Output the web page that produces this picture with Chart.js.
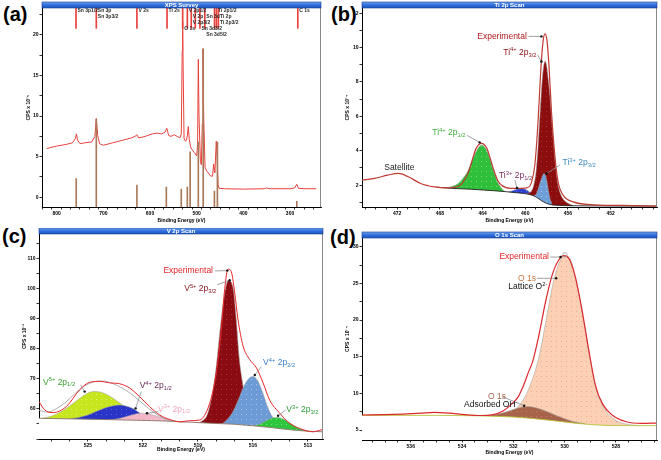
<!DOCTYPE html>
<html>
<head>
<meta charset="utf-8">
<script src="https://cdn.jsdelivr.net/npm/chart.js@4.4.0/dist/chart.umd.min.js"></script>
<style>
  html, body { margin: 0; padding: 0; background: #fff; }
  body { width: 661px; height: 460px; position: relative; overflow: hidden; }
  canvas { position: absolute; }
  .tag { position: absolute; font: bold 20px "Liberation Sans", Arial, sans-serif; line-height: 20px; color: #000; }
</style>
</head>
<body>
<div class="tag" style="left:3px;top:4px">(a)</div>
<div class="tag" style="left:331px;top:4px">(b)</div>
<div class="tag" style="left:2px;top:226px">(c)</div>
<div class="tag" style="left:330px;top:227px">(d)</div>
<canvas id="survey" width="330" height="226" style="left:0;top:0"></canvas>
<canvas id="ti2p" width="331" height="226" style="left:330px;top:0"></canvas>
<canvas id="v2p" width="330" height="227" style="left:0;top:228px"></canvas>
<canvas id="o1s" width="331" height="228" style="left:330px;top:230px"></canvas>
<script>
// ---------- (a) XPS survey, binding energy (eV) vs CPS x 1e-5 ----------
const surveyBE = [821, 800, 780, 766, 760, 757.5, 755, 750, 740, 725, 718, 715, 712, 708, 700, 680, 660, 640, 632, 628,
  624, 610, 595, 585, 575, 568, 564, 560, 555, 548, 542, 536, 533, 531, 530, 529, 527, 524, 522, 520,
  518, 516, 513, 510, 505, 500, 498, 496.5, 495, 492, 490, 488, 486.5, 485, 482, 478, 474, 470, 466, 463.5,
  461, 458, 456, 454, 452, 440, 400, 355, 350, 345, 300, 290, 285.5, 282, 270, 244];
const surveyCPS = [6.0, 6.3, 6.5, 6.7, 7.2, 7.8, 7.0, 6.6, 6.7, 6.8, 7.5, 9.7, 7.6, 6.6, 6.4, 6.7, 7.0, 7.3, 7.5, 7.7,
  7.3, 7.5, 7.8, 7.9, 7.8, 8.0, 8.5, 7.6, 7.5, 7.7, 7.5, 7.3, 7.8, 18.0, 21.6, 16.0, 7.2, 6.9, 7.0, 7.6,
  8.7, 7.2, 6.2, 5.9, 5.5, 5.1, 6.5, 17.0, 10.0, 4.4, 4.0, 9.0, 18.2, 10.0, 3.6, 3.2, 2.9, 2.6, 2.6, 4.1,
  3.0, 6.9, 4.5, 1.5, 1.1, 1.05, 1.0, 1.05, 1.15, 1.05, 1.05, 1.15, 1.6, 1.1, 1.05, 1.05];
const refBE = [758, 715, 628, 565, 533, 520, 514, 496.5, 486, 462, 455.6, 285.5];
const refHeight = [2.3, 9.6, 1.5, 1.25, 1.0, 1.25, 5.6, 6.8, 18.3, 0.75, 6.8, -0.5];
const markerBE = [758.5, 715, 628, 563.5, 530, 520, 511.6, 503, 493, 482.6, 461.8, 457.7, 453.5, 283.4];
const surveyLabels = ['Sn 3p1/2', 'Sn 3p', 'Sn 3p3/2', 'V 2s', 'Ti 2s', 'V 2p1/2', 'V 2p', 'V 2p3/2', 'O 1s',
  'Sn 3d', 'Sn 3d3/2', 'Sn 3d5/2', 'Ti 2p1/2', 'Ti 2p', 'Ti 2p3/2', 'C 1s'];
const surveyLabelBE = [758.5, 715, 715, 628, 563.5, 520, 511.6, 511.6, 530, 482.6, 493, 482.6, 457.7, 453.5, 453.5, 283.4];
const surveyTicksX = [800, 700, 600, 500, 400, 300];
const surveyTicksY = [0, 5, 10, 15, 20];

// ---------- (b) Ti 2p, CPS x 1e-4 ----------
const tiBE = [475.3, 474.1, 472.9, 471.9, 471.0, 469.8, 468.5, 467.3, 466.2, 465.6, 465.2, 464.9, 464.6, 464.1, 463.6,
  463.3, 463.0, 462.7, 462.4, 461.8, 460.8, 459.9, 459.4, 459.1, 458.8, 458.55, 458.33, 458.14, 457.95, 457.76,
  457.54, 457.23, 456.92, 456.45, 455.5, 453.9, 451, 447.65];
const tiCPS = [2.29, 2.39, 2.58, 2.68, 2.5, 2.1, 1.9, 1.84, 1.95, 2.4, 2.97, 3.6, 4.14, 4.43, 4.14,
  3.6, 2.97, 2.45, 2.1, 1.86, 1.81, 1.84, 2.19, 3.17, 5.69, 8.6, 10.36, 10.79, 10.36, 8.8,
  6.27, 3.75, 2.19, 1.42, 1.03, 0.87, 0.82, 0.78];
const tiBgBE = [468.3, 467, 465, 463, 461.8, 460.5, 459.6, 459.0, 458.6, 458.3, 457.7, 457.1, 455, 447.65];
const tiBgCPS = [1.88, 1.82, 1.76, 1.68, 1.62, 1.54, 1.46, 1.32, 1.15, 1.03, 0.88, 0.83, 0.8, 0.78];
const ti4p12BE = [467.6, 467.0, 466.4, 465.9, 465.4, 465.0, 464.6, 464.3, 464.05, 463.8, 463.5, 463.2, 462.9, 462.6, 462.3, 461.9];
const ti4p12CPS = [1.8, 1.9, 2.05, 2.35, 2.8, 3.4, 3.95, 4.25, 4.33, 4.2, 3.85, 3.3, 2.7, 2.2, 1.88, 1.62];
const ti4p32BE = [460.0, 459.5, 459.2, 459.0, 458.8, 458.6, 458.4, 458.25, 458.14, 458.0, 457.85, 457.7, 457.55, 457.35,
  457.15, 456.95, 456.7, 456.4, 456.0, 455.5];
const ti4p32CPS = [1.5, 1.6, 2.0, 2.7, 4.2, 6.3, 8.2, 9.0, 9.2, 8.95, 8.2, 7.3, 6.1, 4.5, 3.1, 2.1, 1.5, 1.15, 0.95, 0.82];
const ti3p32BE = [459.2, 459.0, 458.8, 458.6, 458.4, 458.25, 458.1, 457.95, 457.8, 457.65, 457.5];
const ti3p32CPS = [1.4, 1.45, 1.75, 2.15, 2.5, 2.68, 2.55, 2.15, 1.6, 1.15, 0.9];
const ti3p12BE = [461.6, 461.2, 460.8, 460.4, 460.0, 459.6, 459.3];
const ti3p12CPS = [1.6, 1.68, 1.76, 1.8, 1.76, 1.6, 1.42];
const tiTicksX = [472, 468, 464, 460, 456, 452];
const tiTicksY = [2, 4, 6, 8, 10, 12];

// ---------- (c) V 2p, CPS x 1e-3 ----------
const vBE = [527.67, 527.36, 526.9, 526.18, 525.45, 524.9, 524.36, 523.82, 523.27, 522.73, 522.18, 521.64, 521.09,
  520.54, 520.0, 519.45, 518.91, 518.36, 518.0, 517.72, 517.54, 517.36, 517.18, 517.0, 516.82, 516.54, 516.18,
  515.81, 515.45, 515.09, 514.54, 514.0, 513.45, 512.73, 512.36, 512.18];
const vCPS = [62.5, 59.7, 58.8, 60.8, 66.4, 68.9, 69.2, 68.7, 68.4, 67.0, 64.1, 60.8, 58.0,
  56.5, 55.7, 56.1, 56.3, 61.9, 72.0, 86.6, 100.1, 106.6, 105.7, 99.0, 90.0, 81.0, 76.5,
  73.7, 68.7, 63.0, 58.6, 55.2, 53.5, 52.4, 52.9, 53.2];
const vFitBE = [527.67, 527.2, 526.7, 526.2, 525.7, 525.2, 524.7, 524.2, 523.7, 523.2, 522.7, 522.2, 521.7, 521.2, 520.7, 520.2, 519.7];
const vFitCPS = [59.5, 59.0, 60.2, 62.3, 65.2, 67.6, 69.0, 69.3, 68.6, 67.2, 65.3, 62.8, 60.2, 58.0, 56.6, 55.9, 55.6];
const vBgBE = [527.67, 525, 522, 520, 518.5, 517, 516, 515, 514, 513, 512.18];
const vBgCPS = [56.9, 56.6, 56.2, 55.8, 55.3, 54.9, 54.4, 53.8, 53.1, 52.6, 52.4];
const v5p12BE = [527.5, 527.0, 526.5, 526.0, 525.5, 525.1, 524.7, 524.3, 523.9, 523.5, 523.1, 522.7, 522.3, 521.9, 521.5, 521.0];
const v5p12CPS = [56.9, 57.6, 59.0, 61.0, 63.3, 65.0, 65.8, 65.6, 64.6, 63.0, 61.3, 59.7, 58.3, 57.3, 56.7, 56.2];
const v4p12BE = [526.0, 525.5, 525.0, 524.5, 524.0, 523.6, 523.3, 523.0, 522.6, 522.3, 522.0, 521.6, 521.2, 520.8];
const v4p12CPS = [56.7, 57.2, 58.0, 59.3, 60.5, 61.1, 61.3, 61.1, 60.3, 59.2, 58.0, 57.0, 56.3, 56.0];
const v3p12BE = [523.8, 523.3, 522.9, 522.5, 522.1, 521.7, 521.3, 520.9, 520.5, 520.1];
const v3p12CPS = [56.4, 56.8, 57.5, 58.2, 58.6, 58.4, 57.7, 56.9, 56.2, 55.8];
const v5p32BE = [519.2, 518.8, 518.5, 518.3, 518.1, 517.95, 517.8, 517.65, 517.5, 517.35, 517.2, 517.05, 516.9,
  516.75, 516.6, 516.4, 516.2, 516.0, 515.7, 515.3, 515.0];
const v5p32CPS = [55.2, 55.9, 58.0, 62.5, 69.5, 77, 86, 94, 100, 102.8, 102.4, 99, 89, 77, 70, 63, 59, 57, 55.5, 54.4, 53.8];
const v4p32BE = [517.7, 517.4, 517.1, 516.8, 516.5, 516.25, 516.0, 515.75, 515.5, 515.25, 515.0, 514.7, 514.4, 514.1];
const v4p32CPS = [55.0, 56.5, 59, 63, 67.5, 70, 70.8, 69.5, 66, 61.5, 58.0, 55.5, 54.2, 53.5];
const v3p32BE = [516.0, 515.6, 515.3, 515.0, 514.75, 514.5, 514.2, 513.9, 513.6, 513.3, 513.0];
const v3p32CPS = [54.4, 55.0, 56.0, 56.9, 57.2, 57.0, 56.2, 55.0, 53.9, 53.1, 52.7];
const vTicksX = [525, 522, 519, 516, 513];
const vTicksY = [60, 70, 80, 90, 100, 110];

// ---------- (d) O 1s, CPS x 1e-4 ----------
const oBE = [537.9, 537.0, 536.3, 535.6, 535.1, 534.5, 533.9, 533.3, 532.8, 532.4, 532.05, 531.8, 531.6, 531.4, 531.25,
  531.0, 530.75, 530.5, 530.25, 530.03, 529.83, 529.57, 529.31, 529.05, 528.8, 528.53, 528.15, 527.6, 527.0, 526.4];
const oCPS = [7.05, 7.1, 7.18, 7.3, 7.4, 7.3, 7.1, 6.98, 7.1, 7.6, 8.6, 9.6, 11.1, 13.0, 14.3,
  18.0, 22.4, 26.0, 28.1, 28.8, 28.4, 25.7, 21.1, 15.7, 11.1, 8.6, 7.05, 6.13, 5.91, 5.95];
const oBgBE = [537.9, 535, 533.5, 532.5, 531.5, 530.5, 529.5, 528.5, 527.5, 526.4];
const oBgCPS = [7.0, 7.0, 6.95, 6.85, 6.65, 6.3, 5.9, 5.65, 5.6, 5.6];
const oLatticeBE = [532.6, 532.2, 531.9, 531.6, 531.3, 531.0, 530.75, 530.5, 530.25, 530.0, 529.8, 529.57, 529.31,
  529.05, 528.8, 528.53, 528.15, 527.8, 527.4, 527.0];
const oLatticeCPS = [6.85, 7.3, 7.9, 9.2, 11.5, 15.0, 19.5, 24.2, 27.5, 28.7, 28.4, 25.6, 21.0, 15.6, 11.0, 8.4, 6.7, 6.0, 5.7, 5.6];
const oHydroxBE = [533.2, 532.8, 532.4, 532.0, 531.7, 531.45, 531.2, 530.9, 530.6, 530.3, 530.0, 529.6, 529.2];
const oHydroxCPS = [6.95, 7.05, 7.35, 7.8, 8.1, 8.2, 8.1, 7.8, 7.4, 6.95, 6.55, 6.1, 5.85];
const oTicksX = [536, 534, 532, 530, 528];
const oTicksY = [5, 10, 15, 20, 25, 30];

// ---------- helpers ----------
const FONT = '"Liberation Sans", Arial, sans-serif';
const pts = (xs, ys) => xs.map((x, i) => ({ x, y: ys[i] }));

// flat fill with a sparse stipple, like the fitting software's hatch
const dots = (base, dot) => {
  const c = document.createElement('canvas');
  c.width = 5; c.height = 5;
  const g = c.getContext('2d');
  g.fillStyle = base; g.fillRect(0, 0, 5, 5);
  g.fillStyle = dot; g.fillRect(1, 1, 1, 1);
  return g.createPattern(c, 'repeat');
};

const line = (xs, ys, color, width) => ({
  data: pts(xs, ys), borderColor: color, borderWidth: width, fill: false, pointRadius: 0
});
const area = (xs, ys, fillStyle, edge) => ({
  data: pts(xs, ys), borderColor: edge || 'rgba(160,160,160,0.9)', borderWidth: 0.6,
  backgroundColor: fillStyle, fill: 'start', pointRadius: 0
});
// background line; its white fill hides the component fills below it
const baseline = (xs, ys, color) => ({
  data: pts(xs, ys), borderColor: color, borderWidth: 0.9, backgroundColor: '#fff', fill: 'start', pointRadius: 0
});

const tickList = (min, max, step, major, reverse) => {
  const out = [];
  for (let v = Math.ceil(min / step - 1e-9) * step; v <= max + 1e-9; v += step) out.push(Math.round(v * 1000) / 1000);
  major.forEach((m) => { if (!out.some((v) => Math.abs(v - m) < 1e-6)) out.push(m); });
  out.sort((a, b) => a - b);
  return reverse ? out.reverse() : out;
};

const axis = (dir, o) => ({
  type: 'linear', min: o.min, max: o.max, reverse: dir === 'x',
  border: { display: true, color: '#000', width: 1 },
  grid: { drawOnChartArea: false, drawTicks: true, tickLength: 2.5, color: '#000', lineWidth: 0.8 },
  ticks: {
    autoSkip: false, maxRotation: 0, padding: 1, color: '#000',
    font: { family: FONT, size: 5, weight: 'bold' },
    callback: (v) => (o.major.some((m) => Math.abs(m - v) < 1e-6) ? String(v) : '')
  },
  afterBuildTicks: (s) => { s.ticks = tickList(o.min, o.max, o.minor, o.major, dir === 'x').map((v) => ({ value: v })); },
  afterFit: (s) => { if (dir === 'x') s.height = o.size; else s.width = o.size; },
  title: {
    display: true, text: o.title, color: '#000',
    font: { family: FONT, size: 5, weight: 'bold' },
    padding: dir === 'x' ? { top: 0, bottom: 2 } : { top: 2, bottom: 0 }
  }
});

// text with ^{sup} and _{sub} parts
const richText = (ctx, str, x, y, size, align) => {
  const parts = [];
  const re = /(\^|_)\{([^}]*)\}|([^^_]+)/g;
  let m;
  while ((m = re.exec(str))) {
    if (m[3]) parts.push({ t: m[3], k: 0 });
    else parts.push({ t: m[2], k: m[1] === '^' ? 1 : -1 });
  }
  const fontFor = (k) => (k ? size * 0.68 : size) + 'px ' + FONT;
  let w = 0;
  parts.forEach((p) => { ctx.font = fontFor(p.k); p.w = ctx.measureText(p.t).width; w += p.w; });
  let cx = align === 'right' ? x - w : align === 'center' ? x - w / 2 : x;
  ctx.textAlign = 'left';
  ctx.textBaseline = 'middle';
  parts.forEach((p) => {
    ctx.font = fontFor(p.k);
    const dy = p.k === 1 ? -size * 0.32 : p.k === -1 ? size * 0.3 : 0;
    ctx.fillText(p.t, cx, y + dy);
    cx += p.w;
  });
};

const framePlugin = (title) => ({
  id: 'frame',
  afterDraw(chart) {
    const { ctx, chartArea: a } = chart;
    ctx.save();
    ctx.strokeStyle = '#8a8a8a';
    ctx.lineWidth = 1;
    ctx.beginPath();
    ctx.moveTo(a.right - 0.5, a.top);
    ctx.lineTo(a.right - 0.5, a.bottom);
    ctx.stroke();
    const h = 6;
    const grad = ctx.createLinearGradient(0, a.top - h, 0, a.top);
    grad.addColorStop(0, '#6fa3f0');
    grad.addColorStop(0.5, '#2f6fdc');
    grad.addColorStop(1, '#1d56c0');
    ctx.fillStyle = grad;
    ctx.fillRect(a.left, a.top - h, a.right - a.left, h);
    ctx.strokeStyle = '#1a3f8a';
    ctx.lineWidth = 0.6;
    ctx.strokeRect(a.left, a.top - h, a.right - a.left, h);
    ctx.fillStyle = '#fff';
    ctx.font = 'bold 6px ' + FONT;
    ctx.textAlign = 'center';
    ctx.textBaseline = 'middle';
    ctx.fillText(title, (a.left + a.right) / 2, a.top - h / 2 + 0.3);
    ctx.restore();
  }
});

const notesPlugin = (notes) => ({
  id: 'notes',
  afterDatasetsDraw(chart) {
    const { ctx, scales: { x, y } } = chart;
    const px = (p) => [x.getPixelForValue(p[0]), y.getPixelForValue(p[1])];
    ctx.save();
    notes.forEach((n) => {
      if (n.from) {
        const a = px(n.from), b = px(n.to);
        ctx.strokeStyle = '#8c8c8c';
        ctx.lineWidth = 0.8;
        ctx.beginPath(); ctx.moveTo(a[0], a[1]); ctx.lineTo(b[0], b[1]); ctx.stroke();
        ctx.fillStyle = '#111';
        ctx.beginPath(); ctx.arc(b[0], b[1], 1.2, 0, Math.PI * 2); ctx.fill();
      }
      if (n.ring) {
        const r = px(n.ring);
        ctx.strokeStyle = '#9a9a9a';
        ctx.lineWidth = 0.8;
        ctx.beginPath(); ctx.arc(r[0], r[1], 2.2, 0, Math.PI * 2); ctx.stroke();
      }
      if (n.text) {
        const t = px(n.at);
        ctx.fillStyle = n.color;
        richText(ctx, n.text, t[0], t[1], n.size || 8.5, n.align);
      }
    });
    ctx.restore();
  }
});

const surveyLabelRow = [0, 0, 1, 0, 0, 0, 1, 2, 3, 1, 3, 4, 0, 1, 2, 0];
const surveyTextPlugin = {
  id: 'surveyText',
  afterDatasetsDraw(chart) {
    const { ctx, chartArea, scales: { x } } = chart;
    ctx.save();
    ctx.font = 'bold 5px ' + FONT;
    ctx.fillStyle = '#2a2a2a';
    ctx.textBaseline = 'middle';
    surveyLabels.forEach((t, i) => {
      ctx.fillText(t, x.getPixelForValue(surveyLabelBE[i]) + 1.5, chartArea.top + 3 + surveyLabelRow[i] * 6);
    });
    ctx.restore();
  }
};

const makeChart = (id, cfg) => new Chart(document.getElementById(id), {
  type: 'line',
  data: { datasets: cfg.datasets },
  options: {
    responsive: false, animation: false, events: [], devicePixelRatio: 1,
    layout: { padding: cfg.padding },
    elements: { point: { radius: 0 }, line: { cubicInterpolationMode: 'monotone' } },
    plugins: { legend: { display: false }, tooltip: { enabled: false } },
    scales: { x: axis('x', cfg.x), y: axis('y', cfg.y) }
  },
  plugins: [framePlugin(cfg.title), notesPlugin(cfg.notes || [])].concat(cfg.extra || [])
});

// ---------- (a) ----------
makeChart('survey', {
  title: 'XPS Survey',
  padding: { left: 24, top: 8, right: 9, bottom: 0 },
  x: { min: 244, max: 821, major: surveyTicksX, minor: 20, size: 19, title: 'Binding Energy (eV)' },
  y: { min: -1.2, max: 23.3, major: surveyTicksY, minor: 2.5, size: 18, title: 'CPS x 10\u207B\u2075' },
  datasets: [
    { type: 'bar', data: pts(refBE, refHeight), base: -1.2, backgroundColor: '#a97a5a', barThickness: 1, grouped: false },
    { type: 'bar', data: markerBE.map((x) => ({ x, y: 20.8 })), base: 23.3, backgroundColor: '#e8413c', barThickness: 1, grouped: false },
    Object.assign(line(surveyBE, surveyCPS, '#e8413c', 1), { cubicInterpolationMode: 'default', tension: 0 })
  ],
  extra: [surveyTextPlugin]
});

// ---------- (b) ----------
makeChart('ti2p', {
  title: 'Ti 2p Scan',
  padding: { left: 13, top: 8, right: 4, bottom: 0 },
  x: { min: 447.65, max: 475.3, major: tiTicksX, minor: 1, size: 19, title: 'Binding Energy (eV)' },
  y: { min: 0.73, max: 12.3, major: tiTicksY, minor: 1, size: 19, title: 'CPS x 10\u207B\u2074' },
  datasets: [
    line(tiBE, tiCPS, '#bf3b33', 1.2),
    baseline(tiBgBE, tiBgCPS, '#222'),
    area(ti3p32BE, ti3p32CPS, dots('#6f9fd8', '#a9c6ec')),
    area(ti4p32BE, ti4p32CPS, dots('#8c0d0d', '#a33434')),
    area(ti3p12BE, ti3p12CPS, dots('#2b3fd0', '#5a6adc')),
    area(ti4p12BE, ti4p12CPS, dots('#2fbf3a', '#7ad880'))
  ],
  notes: [
    { text: 'Experimental', color: '#b0181a', at: [459.85, 10.65], align: 'right', from: [459.7, 10.65], to: [458.48, 10.65] },
    { text: 'Ti^{4+} 2p_{3/2}', color: '#8a1010', at: [458.95, 9.71], align: 'right', from: [458.85, 9.58], to: [458.48, 9.19] },
    { text: 'Ti^{4+} 2p_{1/2}', color: '#3fae3a', at: [465.6, 5.03], align: 'right', from: [465.45, 4.89], to: [464.27, 4.49] },
    { text: 'Ti^{3+} 2p_{1/2}', color: '#7a2a5e', at: [462.46, 2.54], align: 'left', from: [460.98, 2.29], to: [460.77, 1.84] },
    { text: 'Ti^{3+} 2p_{3/2}', color: '#3b8bbf', at: [456.5, 3.3], align: 'left', from: [456.76, 3.17], to: [458.0, 2.68] },
    { text: 'Satellite', color: '#222', at: [471.8, 2.99], align: 'center' }
  ]
});

// ---------- (c) ----------
makeChart('v2p', {
  title: 'V 2p Scan',
  padding: { left: 20, top: 6, right: 7, bottom: 0 },
  x: { min: 512.18, max: 527.67, major: vTicksX, minor: 1, size: 16, title: 'Binding Energy (eV)' },
  y: { min: 50, max: 118.3, major: vTicksY, minor: 5, size: 19, title: 'CPS x 10\u207B\u00B3' },
  datasets: [
    line(vBE, vCPS, '#e8262a', 1),
    line(vFitBE, vFitCPS, '#9a9a9a', 0.8),
    baseline(vBgBE, vBgCPS, '#8a7466'),
    area(v3p32BE, v3p32CPS, dots('#2ec63c', '#78dc84')),
    area(v4p32BE, v4p32CPS, dots('#6d9bd5', '#a8c4e8')),
    area(v5p32BE, v5p32CPS, dots('#8a0c12', '#a23438')),
    area(v3p12BE, v3p12CPS, dots('#f2b6c6', '#f9d6df')),
    area(v4p12BE, v4p12CPS, dots('#2a35c8', '#5862d8')),
    area(v5p12BE, v5p12CPS, dots('#c8e61e', '#def27a'))
  ],
  notes: [
    { text: 'Experimental', color: '#e0262a', at: [518.18, 106.0], align: 'right', from: [518.08, 106.0], to: [517.4, 106.1] },
    { text: 'V^{5+} 2p_{3/2}', color: '#8a1018', at: [518.0, 100.1], align: 'right', from: [517.95, 101.4], to: [517.27, 102.9] },
    { text: 'V^{4+} 2p_{3/2}', color: '#3a7fc4', at: [515.45, 75.4], align: 'left', from: [515.54, 74.1], to: [515.9, 71.3] },
    { text: 'V^{3+} 2p_{3/2}', color: '#2e9a3a', at: [514.18, 59.66], align: 'left', from: [514.21, 59.67], to: [514.63, 57.77] },
    { text: 'V^{5+} 2p_{1/2}', color: '#38a02c', at: [527.45, 68.9], align: 'left', from: [525.4, 68.1], to: [525.18, 65.8] },
    { text: 'V^{4+} 2p_{1/2}', color: '#6a2a5a', at: [522.18, 67.7], align: 'left', from: [522.09, 65.8], to: [522.4, 60.2] },
    { text: 'V^{3+} 2p_{1/2}', color: '#f0a6bc', at: [521.18, 59.9], align: 'left', from: [521.18, 59.1], to: [521.78, 58.57] }
  ]
});

// ---------- (d) ----------
makeChart('o1s', {
  title: 'O 1s Scan',
  padding: { left: 13, top: 8, right: 4, bottom: 0 },
  x: { min: 526.4, max: 537.9, major: oTicksX, minor: 0.5, size: 18, title: 'Binding Energy (eV)' },
  y: { min: 3.64, max: 31.2, major: oTicksY, minor: 2.5, size: 19, title: 'CPS x 10\u207B\u2074' },
  datasets: [
    line(oBE, oCPS, '#dc282c', 1.2),
    baseline(oBgBE, oBgCPS, '#b5c43a'),
    area(oHydroxBE, oHydroxCPS, dots('#a8644a', '#c08068')),
    area(oLatticeBE, oLatticeCPS, dots('#fbd0b4', '#efae92'))
  ],
  notes: [
    { ring: [529.99, 28.9] },
    { text: 'Experimental', color: '#e0262a', at: [530.61, 28.6], align: 'right', from: [530.57, 28.6], to: [530.16, 28.6] },
    { text: 'O 1s', color: '#c8743e', at: [531.82, 25.7], align: 'left', from: [531.08, 25.7], to: [530.33, 25.7] },
    { text: 'Lattice O^{2-}', color: '#111', at: [532.2, 24.5], align: 'left' },
    { text: 'O 1s', color: '#a8664a', at: [532.99, 9.5], align: 'left', from: [532.43, 9.54], to: [531.58, 8.32] },
    { text: 'Adsorbed OH^{-}', color: '#111', at: [533.92, 8.41], align: 'left' }
  ]
});
</script>
</body>
</html>
